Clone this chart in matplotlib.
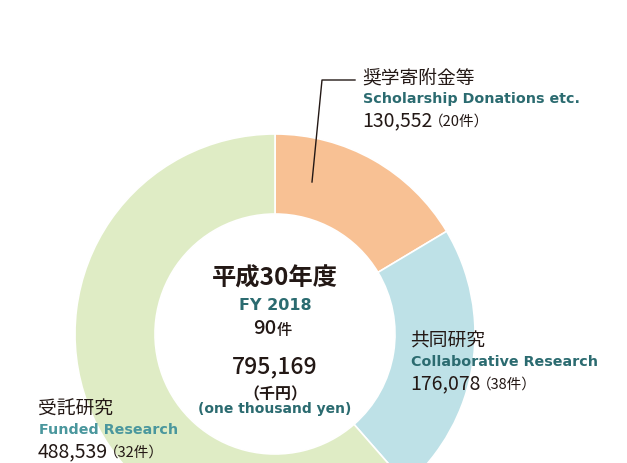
import matplotlib
matplotlib.use("Agg")
import matplotlib.pyplot as plt

plt.rcParams['font.family'] = ['Noto Sans CJK JP', 'DejaVu Sans']
latin = ['DejaVu Sans']

# 平成30年度 外部資金 (千円)
labels_ja = ['奨学寄附金等', '共同研究', '受託研究']
labels_en = ['Scholarship Donations etc.', 'Collaborative Research', 'Funded Research']
amounts = [130552, 176078, 488539]
counts = [20, 38, 32]
colors = ['#F8C194', '#BEE1E7', '#DFECC5']
total_amount = sum(amounts)
total_count = sum(counts)

W, H = 627, 464
fig = plt.figure(figsize=(W / 100, H / 100), dpi=100)
ax = fig.add_axes([0, 0, 1, 1])

cx, cy, R = 275, H - 335, 200
ax.pie(amounts, colors=colors, startangle=90, counterclock=False,
       center=(cx, cy), radius=R,
       wedgeprops=dict(width=R * 0.4, edgecolor='white', linewidth=1.2))
ax.set_xlim(0, W)
ax.set_ylim(0, H)
ax.set_aspect('equal')
ax.axis('off')

dark = '#231815'
teal = '#2B6B70'
teal_light = '#4A979D'

renderer = fig.canvas.get_renderer()


def label_block(x, y_top, ja, en, amount, count, en_color):
    ax.text(x, H - y_top, ja, fontsize=13.5, color=dark, va='center', ha='left')
    ax.text(x + 1, H - y_top - 21, en, fontsize=10.3, color=en_color, family=latin,
            fontweight='bold', va='center', ha='left')
    num = ax.text(x, H - y_top - 43, f'{amount:,}', fontsize=14, color=dark,
                  va='center', ha='left')
    bb = num.get_window_extent(renderer)
    x_end = ax.transData.inverted().transform((bb.x1, bb.y0))[0]
    ax.text(x_end - 4, H - y_top - 44, f'（{count}件）', fontsize=10.5,
            color=dark, va='center', ha='left')


label_block(362, 78, labels_ja[0], labels_en[0], amounts[0], counts[0], teal)
label_block(410, 341, labels_ja[1], labels_en[1], amounts[1], counts[1], teal)
label_block(38, 409, labels_ja[2], labels_en[2], amounts[2], counts[2], teal_light)

# leader line for the scholarship wedge
ax.plot([355, 322, 312], [H - 81, H - 81, H - 183], color=dark, lw=1)

# center totals
ax.text(cx, H - 279, '平成30年度', fontsize=17.5, fontweight='bold',
        color=dark, ha='center', va='center')
ax.text(cx, H - 305, 'FY 2018', fontsize=11.5, fontweight='bold', family=latin,
        color=teal, ha='center', va='center')
ax.text(cx + 1, H - 329, f'{total_count}', fontsize=14.5, fontweight='medium',
        color=dark, ha='right', va='center')
ax.text(cx + 2, H - 330, '件', fontsize=11, fontweight='medium',
        color=dark, ha='left', va='center')
ax.text(cx, H - 367, f'{total_amount:,}', fontsize=16.5, fontweight='medium',
        color=dark, ha='center', va='center')
ax.text(cx, H - 394, '（千円）', fontsize=11.5, fontweight='bold',
        color=dark, ha='center', va='center')
ax.text(cx, H - 409, '(one thousand yen)', fontsize=10, fontweight='bold',
        family=latin, color=teal, ha='center', va='center')

fig.savefig('out.png', dpi=100)
